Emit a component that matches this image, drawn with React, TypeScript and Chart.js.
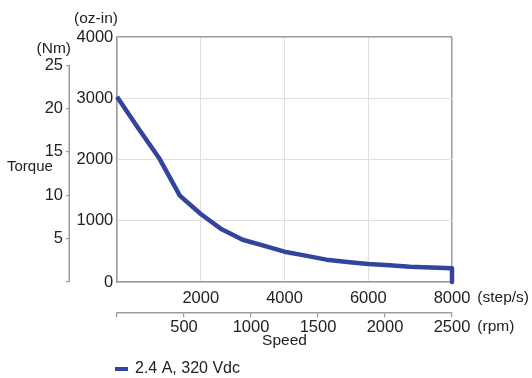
import React, { useEffect, useRef } from "react";
import { Chart, registerables } from "chart.js";

Chart.register(...registerables);

// Speed (step/s) and torque (oz-in)
const speedSteps = [0, 500, 1000, 1500, 2000, 2500, 3000, 3500, 4000, 4500, 5000, 5500, 6000, 6500, 7000, 7500, 8000, 8000];
const torqueOzIn = [3025, 2520, 2030, 1410, 1110, 860, 690, 593, 495, 430, 365, 327, 295, 272, 250, 237, 225, 0];

const seriesLabel = "2.4 A, 320 Vdc";
const stepTicks = [0, 2000, 4000, 6000, 8000];
const rpmTicks = [0, 500, 1000, 1500, 2000, 2500];
const ozInTicks = [0, 1000, 2000, 3000, 4000];
const nmTicks = [0, 5, 10, 15, 20, 25];
const OZIN_PER_NM = 141.612;

const FONT = "'Liberation Sans', Arial, Helvetica, sans-serif";
const TEXT = "#222222";
const AXIS = "#9c9c9c";
const GRID = "#e2dede";
const LINE = "#33449c";

const extras = {
  id: "extras",
  afterDraw(chart: any) {
    const { ctx } = chart;
    const x = chart.scales.x;
    const x2 = chart.scales.x2;
    const y2 = chart.scales.y2;
    ctx.save();
    // Nm axis line (0..25)
    ctx.strokeStyle = AXIS;
    ctx.lineWidth = 1.5;
    ctx.beginPath();
    ctx.moveTo(y2.right - 0.75, y2.getPixelForValue(25));
    ctx.lineTo(y2.right - 0.75, y2.getPixelForValue(0));
    ctx.stroke();

    ctx.fillStyle = TEXT;
    ctx.textBaseline = "middle";
    ctx.font = `15.5px ${FONT}`;
    ctx.textAlign = "right";
    ctx.fillText("(oz-in)", 118, 19);
    ctx.fillText("(Nm)", 71, 49);
    ctx.textAlign = "left";
    ctx.font = `15px ${FONT}`;
    ctx.fillText("Torque", 7, 167);

    // unit labels after last ticks
    ctx.font = `16.5px ${FONT}`;
    const w1 = ctx.measureText(String(stepTicks[stepTicks.length - 1])).width;
    const w2 = ctx.measureText(String(rpmTicks[rpmTicks.length - 1])).width;
    ctx.font = `15.5px ${FONT}`;
    ctx.fillText("(step/s)", x.getPixelForValue(stepTicks[stepTicks.length - 1]) + w1 / 2 + 7, 298);
    ctx.fillText("(rpm)", x2.getPixelForValue(rpmTicks[rpmTicks.length - 1]) + w2 / 2 + 7, 327);

    // legend
    const ds = chart.data.datasets[0];
    ctx.fillStyle = ds.borderColor;
    ctx.fillRect(115, 367, 13, 4);
    ctx.fillStyle = TEXT;
    ctx.font = `16px ${FONT}`;
    ctx.fillText(ds.label, 135, 369);
    ctx.restore();
  },
};

export default function App() {
  const ref = useRef<HTMLCanvasElement | null>(null);
  useEffect(() => {
    if (!ref.current) return;
    const tickFont = { family: FONT, size: 16.5 };
    const chart = new Chart(ref.current, {
      type: "line",
      data: {
        datasets: [
          {
            label: seriesLabel,
            data: speedSteps.map((s, i) => ({ x: s, y: torqueOzIn[i] })),
            borderColor: LINE,
            backgroundColor: LINE,
            borderWidth: 4.5,
            borderJoinStyle: "round",
            pointRadius: 0,
            tension: 0,
            fill: false,
            clip: 6,
          },
        ],
      },
      options: {
        animation: false,
        responsive: false,
        devicePixelRatio: 1,
        layout: { padding: { top: 37, right: 80, bottom: 27.7, left: 0 } },
        plugins: { legend: { display: false }, tooltip: { enabled: false }, title: { display: false } },
        scales: {
          x: {
            type: "linear",
            position: "bottom",
            min: 0,
            max: 8000,
            afterBuildTicks: (s: any) => { s.ticks = stepTicks.map((v) => ({ value: v })); },
            afterFit: (s: any) => { s.height = 30.3; },
            ticks: {
              font: tickFont,
              color: TEXT,
              padding: 6.4,
              maxRotation: 0,
              callback: (v: any) => (v === 0 ? "" : String(v)),
            },
            grid: {
              drawTicks: false,
              color: (c: any) => (c.tick && c.tick.value === 8000 ? AXIS : GRID),
              lineWidth: (c: any) => (c.tick && c.tick.value === 8000 ? 1.5 : 1),
            },
            border: { display: true, color: AXIS, width: 1.5 },
          },
          x2: {
            type: "linear",
            position: "bottom",
            min: 0,
            max: 2500,
            afterBuildTicks: (s: any) => { s.ticks = rpmTicks.map((v) => ({ value: v })); },
            afterFit: (s: any) => { s.height = 38; },
            ticks: {
              font: tickFont,
              color: TEXT,
              padding: 0,
              maxRotation: 0,
              callback: (v: any) => (v === 0 ? "" : String(v)),
            },
            grid: { drawOnChartArea: false, drawTicks: true, tickLength: 5, color: AXIS, lineWidth: 1.2 },
            border: { display: true, color: AXIS, width: 1.5 },
            title: {
              display: true,
              text: "Speed",
              font: { family: FONT, size: 15.5, lineHeight: 1.2 },
              color: TEXT,
              padding: { top: 0, bottom: 0 },
            },
          },
          y: {
            type: "linear",
            position: "left",
            weight: 0,
            min: 0,
            max: 4000,
            afterBuildTicks: (s: any) => { s.ticks = ozInTicks.map((v) => ({ value: v })); },
            afterFit: (s: any) => { s.width = 47; },
            ticks: { font: tickFont, color: TEXT, padding: 3.7, callback: (v: any) => String(v) },
            grid: {
              drawTicks: false,
              color: (c: any) => (c.tick && c.tick.value === 4000 ? AXIS : GRID),
              lineWidth: (c: any) => (c.tick && c.tick.value === 4000 ? 1.5 : 1),
            },
            border: { display: true, color: AXIS, width: 1.5 },
          },
          y2: {
            type: "linear",
            position: "left",
            weight: 1,
            min: 0,
            max: 4000 / OZIN_PER_NM,
            afterBuildTicks: (s: any) => { s.ticks = nmTicks.map((v) => ({ value: v })); },
            afterFit: (s: any) => { s.width = 70; },
            ticks: {
              font: tickFont,
              color: TEXT,
              padding: 3,
              callback: (v: any) => (v === 0 ? "" : String(v)),
            },
            grid: { drawOnChartArea: false, drawTicks: true, tickLength: 4, color: AXIS, lineWidth: 1.2 },
            border: { display: false },
          },
        },
      },
      plugins: [extras],
    } as any);
    return () => chart.destroy();
  }, []);
  return (
    <div style={{ position: "absolute", left: 0, top: 0, width: 532, height: 378, background: "#fff" }}>
      <canvas ref={ref} width={532} height={378} style={{ display: "block" }} />
    </div>
  );
}
